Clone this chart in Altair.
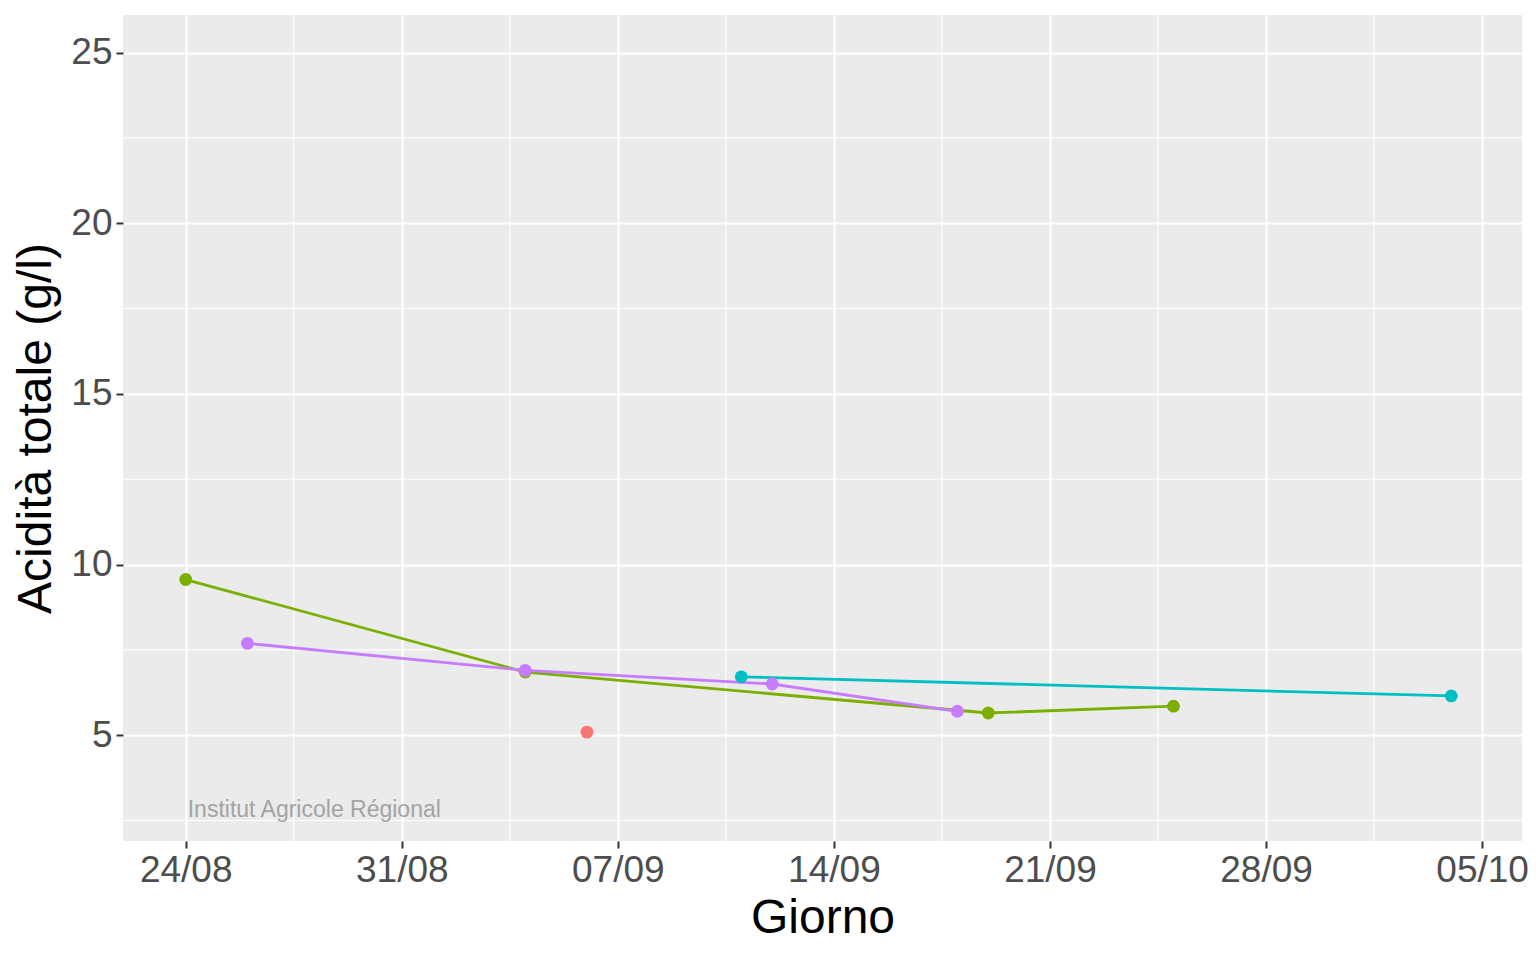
import altair as alt
import pandas as pd

# Acidità totale per serie (date del 2023)
serie = ["S1", "S2", "S3", "S4"]
colori = ["#F8766D", "#7CAE00", "#00BFC4", "#C77CFF"]

date_s1 = ["2023-09-06"]
acid_s1 = [5.09]

date_s2 = ["2023-08-24", "2023-09-04", "2023-09-19", "2023-09-25"]
acid_s2 = [9.56, 6.85, 5.65, 5.85]

date_s3 = ["2023-09-11", "2023-10-04"]
acid_s3 = [6.71, 6.15]

date_s4 = ["2023-08-26", "2023-09-04", "2023-09-12", "2023-09-18"]
acid_s4 = [7.69, 6.90, 6.50, 5.70]

tick_x = ["2023-08-24", "2023-08-31", "2023-09-07", "2023-09-14",
          "2023-09-21", "2023-09-28", "2023-10-05"]
minor_x = ["2023-08-27T12:00:00", "2023-09-03T12:00:00", "2023-09-10T12:00:00",
           "2023-09-17T12:00:00", "2023-09-24T12:00:00", "2023-10-01T12:00:00"]
tick_y = [5, 10, 15, 20, 25]
minor_y = [2.5, 7.5, 12.5, 17.5, 22.5]

watermark = "Institut Agricole Régional"
watermark_pos = ("2023-08-24", 2.8)

font = "Liberation Sans"

rows = []
for nome, dd, vv in zip(serie, [date_s1, date_s2, date_s3, date_s4],
                        [acid_s1, acid_s2, acid_s3, acid_s4]):
    for d, v in zip(dd, vv):
        rows.append({"serie": nome, "giorno": d + "T00:00:00", "acid": v})
df = pd.DataFrame(rows)


def dt(s):
    y, m, d = [int(p) for p in s.split("-")]
    return alt.DateTime(year=y, month=m, date=d)


x_scale = alt.Scale(domain=[alt.DateTime(year=2023, month=8, date=21, hours=23, minutes=15),
                            alt.DateTime(year=2023, month=10, date=6, hours=7)])
y_scale = alt.Scale(domain=[1.9, 26.1], nice=False, zero=False)
col_scale = alt.Scale(domain=serie, range=colori)

axis_style = dict(
    labelFontSize=37, titleFontSize=48, labelColor="#4d4d4d", titleColor="black",
    titleFontWeight="normal", tickColor="#333333", tickSize=7, tickWidth=2,
    domain=False, gridColor="white", gridWidth=2.2, labelPadding=4,
    labelFont=font, titleFont=font,
)

x_enc = alt.X(
    "giorno:T", scale=x_scale, title="Giorno",
    axis=alt.Axis(values=[dt(t) for t in tick_x], format="%d/%m",
                  titlePadding=6, labelFlush=False, **axis_style),
)
y_enc = alt.Y(
    "acid:Q", scale=y_scale, title="Acidità totale (g/l)",
    axis=alt.Axis(values=tick_y, titlePadding=10, **axis_style),
)

base = alt.Chart(df)

minor_v = alt.Chart(pd.DataFrame({"giorno": minor_x})).mark_rule(
    color="white", strokeWidth=1.1
).encode(x=alt.X("giorno:T", scale=x_scale))
minor_h = alt.Chart(pd.DataFrame({"acid": minor_y})).mark_rule(
    color="white", strokeWidth=1.1
).encode(y=alt.Y("acid:Q", scale=y_scale))

lines = base.mark_line(strokeWidth=2.8).encode(
    x=x_enc, y=y_enc,
    color=alt.Color("serie:N", scale=col_scale, legend=None),
    detail="serie:N",
)
points = base.mark_circle(size=165, opacity=1).encode(
    x=x_enc, y=y_enc,
    color=alt.Color("serie:N", scale=col_scale, legend=None),
)

wm = alt.Chart(pd.DataFrame({"giorno": [watermark_pos[0] + "T00:00:00"],
                             "acid": [watermark_pos[1]],
                             "testo": [watermark]})).mark_text(
    align="left", baseline="middle", fontSize=23, color="#a3a3a3", font=font, dx=2
).encode(x=alt.X("giorno:T", scale=x_scale), y=alt.Y("acid:Q", scale=y_scale),
         text="testo:N")

chart = alt.layer(minor_v, minor_h, lines, points, wm).properties(
    width=1399, height=826,
    autosize=alt.AutoSizeParams(type="none"),
    padding={"left": 115, "top": 7, "right": 6, "bottom": 110},
).configure_view(fill="#EBEBEB", stroke=None)

chart.save("out.html", embed_options={"renderer": "svg", "actions": False})
